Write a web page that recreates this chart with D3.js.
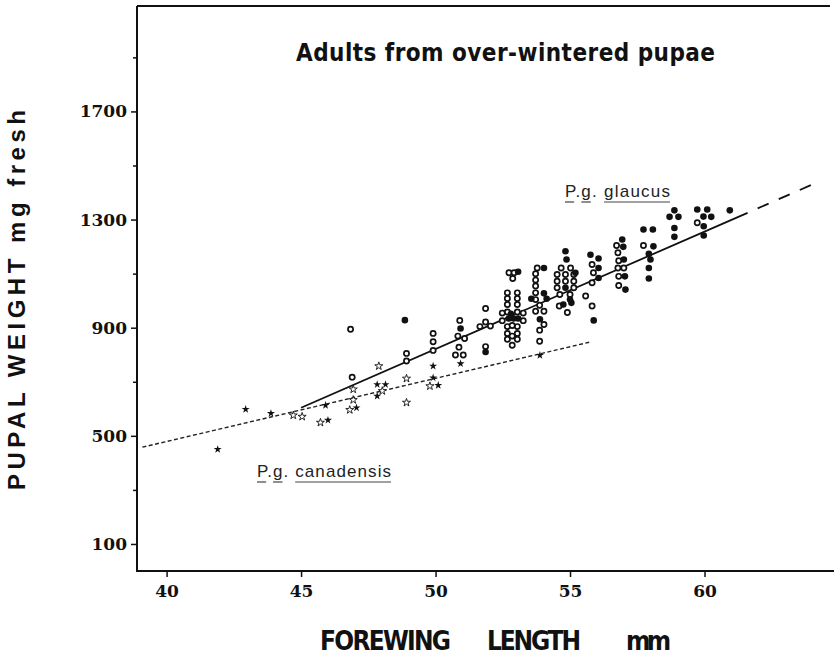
<!DOCTYPE html>
<html lang="en">
<head>
<meta charset="utf-8">
<title>Pupal weight vs forewing length</title>
<style>
  body { margin: 0; background: #fff; }
  svg { display: block; }
  .tick text { font-family: "DejaVu Serif", serif; font-weight: bold; font-size: 17px; fill: #111; }
  .tick line { stroke: #111; stroke-width: 1.5px; }
  .cond { font-family: "Liberation Sans Narrow", "DejaVu Sans Condensed", sans-serif; font-weight: bold; fill: #111; }
  .ytitle { font-family: "Liberation Sans", Arial, sans-serif; font-weight: bold; font-size: 24px; fill: #111; }
  .sp { font-family: "Liberation Sans", Arial, sans-serif; font-size: 17px; fill: #222; }
</style>
</head>
<body>
<svg width="834" height="661"></svg>
<script src="https://cdn.jsdelivr.net/npm/d3@7"></script>
<script>
// ticks
var xTicks = [40, 45, 50, 55, 60];
var yTicks = [100, 300, 500, 700, 900, 1100, 1300, 1500, 1700, 1900];
var yLabels = [100, 500, 900, 1300, 1700];

// P. g. glaucus, open circles  [forewing mm, pupal mg]
var glaucusOpen = [
  [46.84, 894], [46.9, 717], [48.92, 805], [48.92, 777],
  [49.91, 879], [49.91, 848], [49.91, 816],
  [50.9, 927], [50.83, 869], [51.08, 860], [50.87, 828], [50.74, 799], [51.03, 799],
  [51.86, 971], [51.65, 904], [51.86, 921], [52.04, 906], [51.86, 830],
  [52.73, 1103], [52.92, 1103], [52.87, 1082],
  [52.67, 1029], [52.67, 1008], [52.67, 986], [52.67, 958], [52.67, 904], [52.67, 879], [52.67, 857],
  [53.04, 1029], [53.04, 1008], [53.04, 986], [53.04, 958], [53.04, 904], [53.04, 879], [53.04, 857],
  [52.48, 954], [52.48, 926], [53.26, 954], [53.26, 926], [52.85, 908], [52.85, 869], [52.85, 835],
  [53.78, 1121], [53.72, 1100], [53.72, 1076], [53.72, 1054], [53.72, 1029], [53.72, 1004],
  [53.87, 983], [53.72, 961], [54.03, 961], [54.03, 912], [53.87, 891], [53.87, 850],
  [54.67, 1121], [55.02, 1121], [54.52, 1097], [54.83, 1097], [55.14, 1097],
  [54.52, 1072], [54.83, 1072], [55.14, 1072], [54.52, 1048], [55.14, 1048],
  [54.62, 1023], [55.0, 1023], [54.6, 980], [54.9, 956],
  [55.82, 1134], [55.87, 1103], [55.82, 1066], [55.58, 1017], [55.82, 980],
  [56.73, 1204], [56.78, 1177], [56.81, 1148], [56.78, 1121], [57.0, 1121], [56.81, 1090], [56.81, 1056],
  [57.73, 1204], [59.73, 1288]
];

// P. g. glaucus, filled circles
var glaucusFilled = [
  [48.86, 928], [50.93, 897], [51.86, 810],
  [52.72, 934], [52.9, 934], [53.07, 934], [53.07, 1107], [52.8, 951],
  [54.03, 1121], [53.56, 1007], [54.03, 1027], [54.13, 1007], [53.88, 931],
  [54.83, 1183], [54.87, 1152], [55.2, 1103], [54.83, 1048], [55.0, 1004], [54.75, 986], [55.05, 992],
  [55.76, 1170], [56.06, 1156], [56.06, 1121], [56.06, 1084], [55.88, 927],
  [56.94, 1226], [56.98, 1199], [57.0, 1152], [57.04, 1090], [57.06, 1041],
  [57.73, 1263], [58.08, 1263], [58.1, 1201], [57.93, 1173], [57.99, 1152], [57.93, 1121], [57.93, 1082],
  [58.88, 1334], [58.7, 1310], [59.03, 1310], [58.88, 1269], [58.88, 1236],
  [59.73, 1337], [60.1, 1337], [59.96, 1311], [60.25, 1310], [59.97, 1275], [59.97, 1241],
  [60.94, 1334]
];

// P. g. canadensis, open stars
var canadensisOpen = [
  [44.71, 576], [45.04, 571], [45.72, 549], [46.81, 596], [46.94, 633], [46.94, 672],
  [47.89, 758], [48.02, 666], [48.92, 712], [48.92, 623], [49.79, 684]
];

// P. g. canadensis, filled stars
var canadensisFilled = [
  [41.9, 450], [42.94, 598], [43.88, 583], [45.91, 613], [46.0, 558], [47.06, 604],
  [47.83, 690], [48.14, 690], [47.83, 647], [49.91, 758], [49.91, 715], [50.1, 687],
  [50.93, 767], [53.88, 798]
];

// fitted lines
var glaucusFit = [[45.0, 604], [61.6, 1325]];
var glaucusFitExt = [[61.6, 1325], [64.2, 1438]];
var canadensisFit = [[39.1, 458], [55.75, 847]];

var svg = d3.select("svg");

var x = d3.scaleLinear().domain([38.9, 65]).range([137, 839]);
var y = d3.scaleLinear().domain([0, 2090]).range([571, 6]);

// frame (open on the right)
svg.append("path")
  .attr("d", "M" + x(38.9) + "," + y(2090) + "V" + y(0) + "H834")
  .attr("fill", "none").attr("stroke", "#111").attr("stroke-width", 2);
svg.append("line")
  .attr("x1", x(38.9)).attr("x2", 830).attr("y1", y(2090)).attr("y2", y(2090))
  .attr("stroke", "#111").attr("stroke-width", 2);

// axes
svg.append("g")
  .attr("transform", "translate(0," + y(0) + ")")
  .call(d3.axisBottom(x).tickValues(xTicks).tickSize(6).tickPadding(8).tickFormat(d3.format("d")))
  .call(function(g) { g.select(".domain").remove(); });

var yAxis = svg.append("g")
  .attr("transform", "translate(" + x(38.9) + ",0)")
  .call(d3.axisLeft(y).tickValues(yTicks).tickSize(6).tickPadding(4)
    .tickFormat(function(d) { return yLabels.indexOf(d) >= 0 ? d : ""; }))
  .call(function(g) { g.select(".domain").remove(); });
yAxis.selectAll(".tick").filter(function(d) { return yLabels.indexOf(d) < 0; })
  .select("line").attr("x2", -4);

// regression lines
var line = d3.line().x(function(d) { return x(d[0]); }).y(function(d) { return y(d[1]); });

svg.append("path").datum(canadensisFit).attr("d", line)
  .attr("fill", "none").attr("stroke", "#222").attr("stroke-width", 1.4)
  .attr("stroke-dasharray", "4,2.5");
svg.append("path").datum(glaucusFit).attr("d", line)
  .attr("fill", "none").attr("stroke", "#111").attr("stroke-width", 1.8);
svg.append("path").datum(glaucusFitExt).attr("d", line)
  .attr("fill", "none").attr("stroke", "#111").attr("stroke-width", 1.8)
  .attr("stroke-dasharray", "12,11").attr("stroke-dashoffset", -11);

// points
var star = d3.symbol().type(d3.symbolStar).size(20);

svg.append("g").selectAll("path").data(canadensisOpen).enter().append("path")
  .attr("transform", function(d) { return "translate(" + x(d[0]) + "," + y(d[1]) + ")"; })
  .attr("d", star).attr("fill", "#fff").attr("stroke", "#111").attr("stroke-width", 0.9);
svg.append("g").selectAll("path").data(canadensisFilled).enter().append("path")
  .attr("transform", function(d) { return "translate(" + x(d[0]) + "," + y(d[1]) + ")"; })
  .attr("d", star).attr("fill", "#111");

svg.append("g").selectAll("circle").data(glaucusOpen).enter().append("circle")
  .attr("cx", function(d) { return x(d[0]); }).attr("cy", function(d) { return y(d[1]); })
  .attr("r", 2.6).attr("fill", "#fff").attr("stroke", "#111").attr("stroke-width", 1.7);
svg.append("g").selectAll("circle").data(glaucusFilled).enter().append("circle")
  .attr("cx", function(d) { return x(d[0]); }).attr("cy", function(d) { return y(d[1]); })
  .attr("r", 3.3).attr("fill", "#111");

// species labels with underlined parts
function speciesLabel(tx, ty, str, width, ranges) {
  var t = svg.append("text").attr("class", "sp").attr("x", tx).attr("y", ty)
    .attr("textLength", width).attr("lengthAdjust", "spacing").text(str);
  var node = t.node();
  ranges.forEach(function(r) {
    var a = node.getExtentOfChar(r[0]), b = node.getExtentOfChar(r[1]);
    svg.append("line")
      .attr("x1", a.x).attr("x2", b.x + b.width)
      .attr("y1", ty + 5).attr("y2", ty + 5)
      .attr("stroke", "#444").attr("stroke-width", 1.2);
  });
}
speciesLabel(565, 197, "P.g. glaucus", 105, [[0, 0], [2, 2], [5, 11]]);
speciesLabel(257, 477, "P.g. canadensis", 134, [[0, 0], [2, 2], [5, 14]]);

// titles
svg.append("text").attr("class", "cond").attr("x", 296).attr("y", 61)
  .attr("font-size", 24).attr("textLength", 419).attr("lengthAdjust", "spacing")
  .text("Adults from over-wintered pupae");

svg.append("text").attr("class", "ytitle")
  .attr("transform", "translate(25,490) rotate(-90)")
  .attr("textLength", 380).attr("lengthAdjust", "spacing")
  .text("PUPAL WEIGHT mg fresh");

[["FOREWING", 320, 131], ["LENGTH", 487, 94], ["mm", 626, 45]].forEach(function(w) {
  svg.append("text").attr("class", "cond").attr("x", w[1]).attr("y", 650)
    .attr("font-size", 26).attr("textLength", w[2]).attr("lengthAdjust", "spacing")
    .text(w[0]);
});
</script>
</body>
</html>
